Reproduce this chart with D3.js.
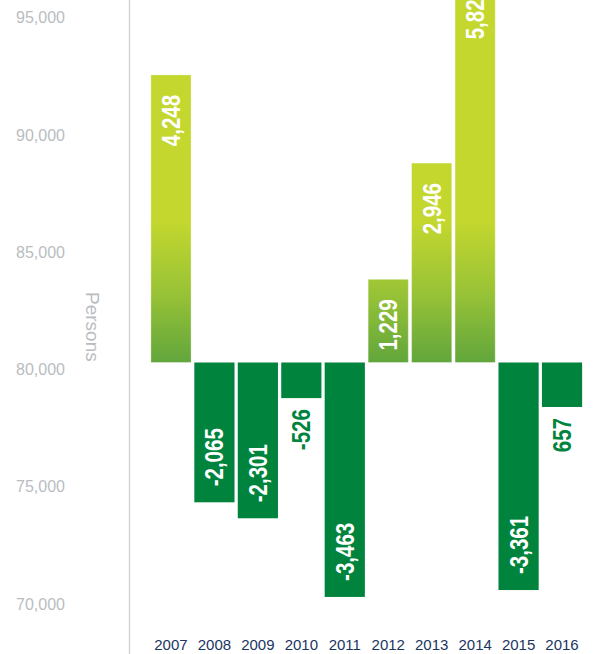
<!DOCTYPE html>
<html>
<head>
<meta charset="utf-8">
<title>Persons change by year</title>
<style>
    html, body { margin: 0; padding: 0; background: #fff; }
    svg { display: block; }
</style>
</head>
<body>
<div id="chart"></div>
<script src="https://d3js.org/d3.v7.min.js"></script>
<script>
// data
const years = ["2007", "2008", "2009", "2010", "2011", "2012", "2013", "2014", "2015", "2016"];
const changes = [4248, -2065, -2301, -526, -3463, 1229, 2946, 5827, -3361, -657];
const valueLabels = ["4,248", "-2,065", "-2,301", "-526", "-3,463", "1,229", "2,946", "5,827", "-3,361", "657"];
const axisTicks = [70000, 75000, 80000, 85000, 90000, 95000];

const width = 595, height = 654;
const data = years.map((y, i) => ({ year: y, value: changes[i], label: valueLabels[i] }));

const svg = d3.select('#chart').append('svg')
    .attr('width', width)
    .attr('height', height);

// gradient for the rising bars
const grad = svg.append('defs').append('linearGradient')
    .attr('id', 'up')
    .attr('gradientUnits', 'userSpaceOnUse')
    .attr('x1', 0).attr('x2', 0)
    .attr('y1', 362).attr('y2', 222);
grad.append('stop').attr('offset', '0%').attr('stop-color', '#62a63c');
grad.append('stop').attr('offset', '50%').attr('stop-color', '#99c336');
grad.append('stop').attr('offset', '100%').attr('stop-color', '#c3d72e');

// persons axis
const y = d3.scaleLinear().domain([70000, 95000]).range([604, 17.8]);

// bars use their own scale for the yearly change
const baseY = 362.5, pxPerUnit = 0.0677;
const yc = d3.scaleLinear().domain([-4000, 6000])
    .range([baseY + 4000 * pxPerUnit, baseY - 6000 * pxPerUnit]);

const x = d3.scaleBand().domain(years).range([150, 583]).paddingInner(0.075).paddingOuter(0.02);

// vertical axis line
svg.append('line')
    .attr('x1', 129.5).attr('x2', 129.5)
    .attr('y1', 0).attr('y2', height)
    .style('stroke', '#d6d6d6')
    .style('stroke-width', 1.5);

const yAxis = svg.append('g')
    .attr('transform', 'translate(65,0)')
    .call(d3.axisLeft(y).tickValues(axisTicks).tickSize(0).tickPadding(0).tickFormat(d3.format(',')));
yAxis.select('.domain').remove();
yAxis.selectAll('text')
    .style('font-family', '"Liberation Sans", Arial, sans-serif')
    .style('font-size', '16px')
    .style('fill', '#b9bdc1');

svg.append('text')
    .attr('transform', 'translate(93,292) rotate(90)')
    .attr('dy', '0.35em')
    .text('Persons')
    .style('font-family', '"Liberation Sans", Arial, sans-serif')
    .style('font-size', '19px')
    .style('fill', '#b9bdc1');

// bars
svg.append('g').selectAll('rect')
    .data(data)
    .enter()
    .append('rect')
    .attr('x', d => x(d.year))
    .attr('width', x.bandwidth())
    .attr('y', d => Math.min(yc(d.value), yc(0)))
    .attr('height', d => Math.abs(yc(d.value) - yc(0)))
    .style('fill', d => d.value > 0 ? 'url(#up)' : '#00843d')
    .style('stroke', d => d.value > 0 ? 'rgba(255,255,255,0.35)' : 'none')
    .style('stroke-width', 1);

const inside = d => d.value > 0 || Math.abs(yc(d.value) - yc(0)) > 80;

// value labels, rotated and squeezed to a condensed look
svg.append('g').selectAll('text')
    .data(data)
    .enter()
    .append('text')
    .attr('transform', d => {
        const cx = x(d.year) + x.bandwidth() / 2;
        let ty;
        if (d.value > 0) ty = yc(d.value) + 20;
        else if (inside(d)) ty = yc(d.value) - 16;
        else ty = yc(d.value) + 11;
        return `translate(${cx},${ty}) rotate(-90) scale(0.82,1)`;
    })
    .attr('dy', '0.36em')
    .attr('text-anchor', d => d.value < 0 && inside(d) ? 'start' : 'end')
    .text(d => d.label)
    .style('font-family', '"Liberation Sans", Arial, sans-serif')
    .style('font-weight', 'bold')
    .style('font-size', '25px')
    .style('fill', d => inside(d) ? '#ffffff' : '#00843d');

// year labels
const xAxis = svg.append('g')
    .attr('transform', 'translate(0,639)')
    .call(d3.axisBottom(x).tickSize(0).tickPadding(0));
xAxis.select('.domain').remove();
xAxis.selectAll('text')
    .attr('dy', '0.71em')
    .style('font-family', '"Liberation Sans", Arial, sans-serif')
    .style('font-size', '15px')
    .style('fill', '#1b3562');
</script>
</body>
</html>
